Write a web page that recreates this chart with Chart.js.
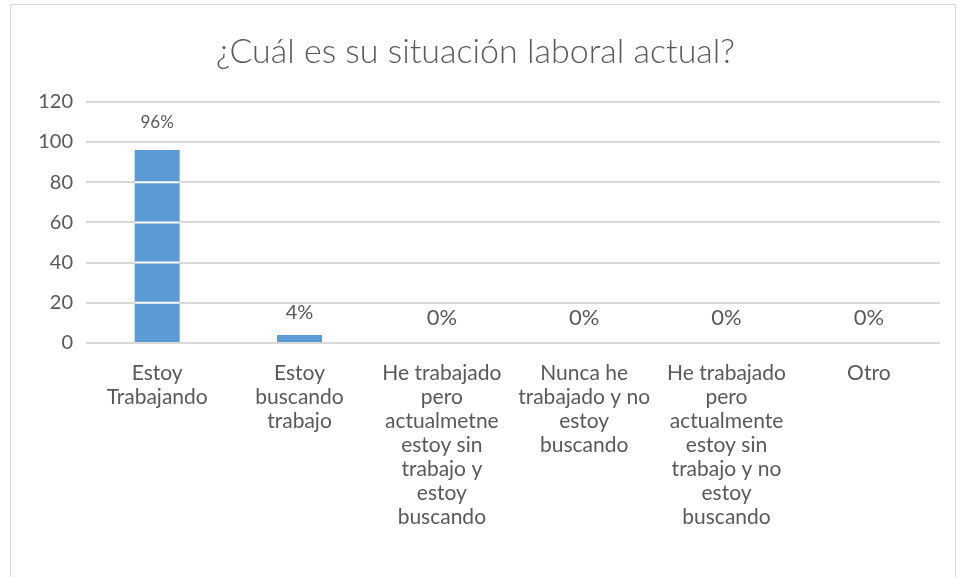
<!DOCTYPE html>
<html>
<head>
<meta charset="utf-8">
<script src="https://cdn.jsdelivr.net/npm/chart.js@4/dist/chart.umd.min.js"></script>
<style>
  body { margin: 0; background: #fff; overflow: hidden; }
  #frame { position: absolute; left: 10px; top: 4px; width: 946px; height: 620px;
           border: 1px solid #d9d9d9; box-sizing: border-box; }
  canvas { display: block; }
</style>
</head>
<body>
<div id="frame"><canvas id="myChart" width="944" height="618"></canvas></div>
<script>
// data
const chartTitle = '¿Cuál es su situación laboral actual?';
const categories = [
	['Estoy', 'Trabajando'],
	['Estoy', 'buscando', 'trabajo'],
	['He trabajado', 'pero', 'actualmetne', 'estoy sin', 'trabajo y', 'estoy', 'buscando'],
	['Nunca he', 'trabajado y no', 'estoy', 'buscando'],
	['He trabajado', 'pero', 'actualmente', 'estoy sin', 'trabajo y no', 'estoy', 'buscando'],
	['Otro']
];
const values = [96, 4, 0, 0, 0, 0];
const valueLabels = ['96%', '4%', '0%', '0%', '0%', '0%'];
const yTicks = [0, 20, 40, 60, 80, 100, 120];

const textColor = '#595959';
const fontFamily = 'Lato, "Noto Sans", sans-serif';

// label sizes / gaps differ per bar in the original
const labelSizes = [17, 20, 22, 22, 22, 22];
const labelGaps = [28, 22, 25, 25, 25, 25];

const barLabels = {
	id: 'barLabels',
	afterDatasetsDraw(chart) {
		const ctx = chart.ctx;
		const yScale = chart.scales.y;
		const meta = chart.getDatasetMeta(0);
		ctx.save();
		// white cuts where the gridlines cross the bars
		ctx.strokeStyle = '#ffffff';
		ctx.lineWidth = 2;
		meta.data.forEach((bar, i) => {
			yTicks.forEach(t => {
				if (t > 0 && t < values[i]) {
					const y = yScale.getPixelForValue(t);
					ctx.beginPath();
					ctx.moveTo(bar.x - bar.width / 2, y);
					ctx.lineTo(bar.x + bar.width / 2, y);
					ctx.stroke();
				}
			});
		});
		ctx.fillStyle = textColor;
		ctx.textAlign = 'center';
		ctx.textBaseline = 'middle';
		meta.data.forEach((bar, i) => {
			ctx.font = labelSizes[i] + 'px ' + fontFamily;
			ctx.fillText(valueLabels[i], bar.x, bar.y - labelGaps[i]);
		});
		ctx.restore();
	}
};

var ctx = document.getElementById('myChart').getContext('2d');
var myChart = new Chart(ctx, {
	type: 'bar',
	data: {
		labels: categories,
		datasets: [{
			data: values,
			backgroundColor: '#5B9BD5',
			borderWidth: 0,
			categoryPercentage: 1,
			barPercentage: 0.316
		}]
	},
	options: {
		responsive: false,
		animation: false,
		layout: { padding: { left: 0, right: 15, top: 0, bottom: 0 } },
		plugins: {
			legend: { display: false },
			tooltip: { enabled: false },
			title: {
				display: true,
				text: chartTitle,
				color: textColor,
				font: { family: fontFamily, size: 34, weight: '300', lineHeight: 1.2 },
				padding: { top: 27, bottom: 29 }
			}
		},
		scales: {
			x: {
				grid: { display: false, drawTicks: false },
				border: { display: false },
				ticks: {
					color: textColor,
					font: { family: fontFamily, size: 21, lineHeight: 24 / 21 },
					padding: 18,
					maxRotation: 0,
					autoSkip: false
				},
				afterFit(s) { s.height = 280; }
			},
			y: {
				min: 0,
				max: 120,
				grid: { color: '#d9d9d9', lineWidth: 2, drawTicks: false },
				border: { display: false },
				ticks: {
					stepSize: 20,
					color: textColor,
					font: { family: fontFamily, size: 20 },
					padding: 13
				},
				afterFit(s) { s.width = 75; }
			}
		}
	},
	plugins: [barLabels]
});
</script>
</body>
</html>
